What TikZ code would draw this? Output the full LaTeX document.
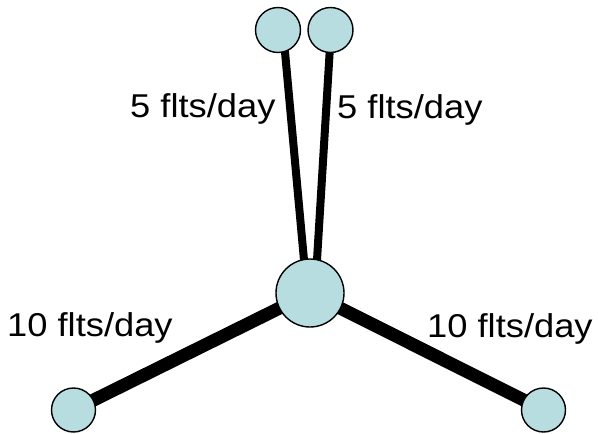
\documentclass[tikz,border=0pt]{standalone}
\usepackage{fontspec}
\setmainfont{Liberation Sans}
\usetikzlibrary{backgrounds}
\definecolor{airport}{RGB}{183,221,224}
\newcommand{\widetext}[1]{\scalebox{1.1}[1]{#1}}
\tikzset{
  airportdot/.style={circle, draw=black, line width=1.4pt, fill=airport, inner sep=0pt, minimum size=#1},
  route/.style={line width=#1, draw=black},
  freq/.style={anchor=base west, inner sep=0pt, font=\fontsize{33}{40}\selectfont}
}
\begin{document}
\begin{tikzpicture}[x=1pt, y=-1pt]
  \useasboundingbox (0,0) rectangle (598,434);
  % airports
  \node[airportdot=68pt] (hub) at (310,293) {};
  \node[airportdot=45pt] (nw) at (278,30) {};
  \node[airportdot=45pt] (ne) at (330.5,30) {};
  \node[airportdot=44pt] (sw) at (73.5,410) {};
  \node[airportdot=44pt] (se) at (543.5,410) {};
  % where the spokes meet the circles
  \coordinate (nwend) at (283,30);
  \coordinate (neend) at (331,30);
  \coordinate (hubl) at (307,293);
  \coordinate (hubr) at (315,293);
  % routes, kept underneath the airports
  \begin{scope}[on background layer]
    \draw[route=8pt] (nwend) -- (hubl);
    \draw[route=8pt] (neend) -- (hubr);
    \draw[route=13pt] (hub.center) -- (sw.center);
    \draw[route=13pt] (hub.center) -- (se.center);
  \end{scope}
  % frequencies
  \node[freq] (lnw) at (130,117) {\widetext{5 flts/day}};
  \node[freq] (lne) at (337,118) {\widetext{5 flts/day}};
  \node[freq] (lsw) at (7,336) {\widetext{10 flts/day}};
  \node[freq] (lse) at (427,337) {\widetext{10 flts/day}};
\end{tikzpicture}
\end{document}
